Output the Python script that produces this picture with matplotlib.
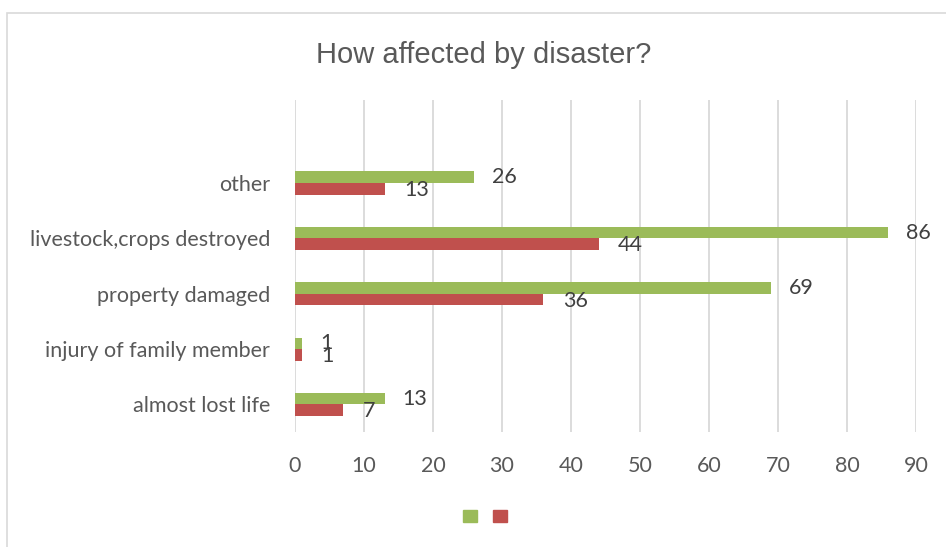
import matplotlib.pyplot as plt
from matplotlib.patches import Patch, Rectangle
import numpy as np

# categories bottom to top; the top slot is left empty
categories = ['almost lost life', 'injury of family member', 'property damaged',
              'livestock,crops destroyed', 'other', '']
series_a = [13, 1, 69, 86, 26]
series_b = [7, 1, 36, 44, 13]
x_ticks = [0, 10, 20, 30, 40, 50, 60, 70, 80, 90]

green = '#9BBB59'
red = '#C0504D'
txt = '#595959'
fs = 15.5

fig = plt.figure(figsize=(9.46, 5.47), dpi=100)
ax = fig.add_axes([0.3118, 0.2102, 0.6565, 0.607])

# chart frame
fig.patches.append(Rectangle((7 / 946, -0.1), 1.2, 1 - 13 / 547 + 0.1, transform=fig.transFigure,
                             fill=False, edgecolor='#D9D9D9', linewidth=1.2))

y = np.arange(len(series_a))
h = 0.208
ax.barh(y + h / 2, series_a, height=h, color=green, zorder=3)
ax.barh(y - h / 2, series_b, height=h, color=red, zorder=3)

for yi, va, vb in zip(y, series_a, series_b):
    ax.annotate(str(va), (va, yi + h / 2), xytext=(13, 0), textcoords='offset points',
                va='center', ha='left', fontsize=fs, color='#404040', family='Lato')
    ax.annotate(str(vb), (vb, yi - h / 2), xytext=(14, -1), textcoords='offset points',
                va='center', ha='left', fontsize=fs, color='#404040', family='Lato')

ax.set_xlim(0, 90)
ax.set_ylim(-0.5, len(categories) - 0.5)
ax.set_xticks(x_ticks)
ax.set_yticks(np.arange(len(categories)))
ax.set_yticklabels(categories)
ax.tick_params(axis='both', length=0, labelsize=fs, labelcolor=txt)
ax.tick_params(axis='x', pad=17.5)
ax.tick_params(axis='y', pad=18)
for lab in ax.get_xticklabels() + ax.get_yticklabels():
    lab.set_family('Lato')
ax.grid(axis='x', color='#D9D9D9', linewidth=1.3, zorder=0)
for s in ax.spines.values():
    s.set_visible(False)

fig.text(0.511, 0.9, 'How affected by disaster?', ha='center', va='center',
         fontsize=21, color=txt, family='Liberation Sans')

fig.legend(handles=[Patch(color=green), Patch(color=red)], labels=['', ''],
           loc='center', bbox_to_anchor=(0.5127, 1 - 517 / 547), ncol=2, frameon=False,
           fontsize=10, handlelength=1.0, handleheight=1.0, handletextpad=0,
           columnspacing=1.2)

plt.savefig('out.png', dpi=100)
